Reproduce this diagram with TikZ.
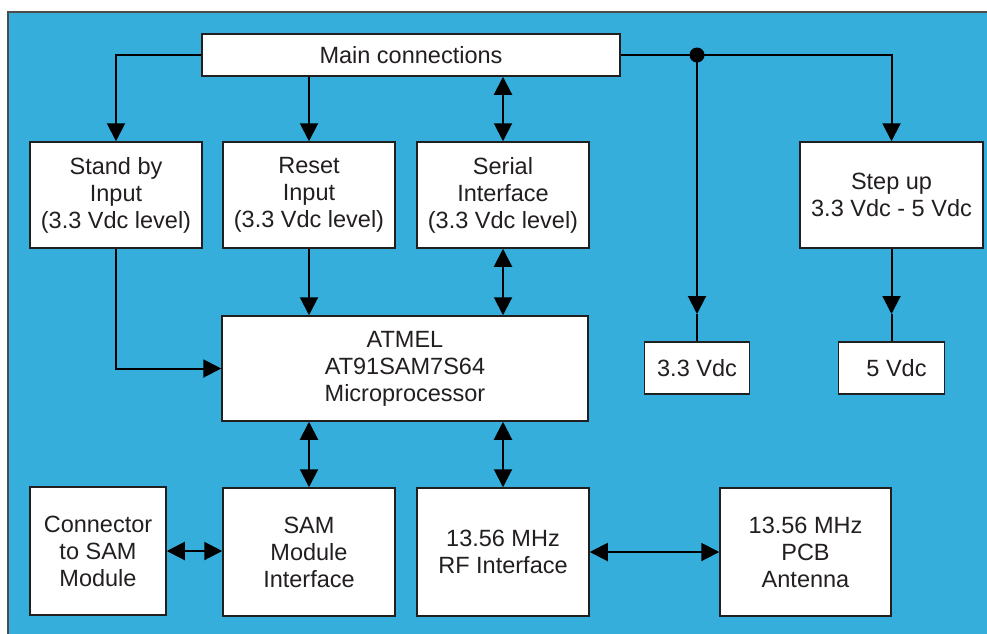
\documentclass[tikz,border=0pt]{standalone}
\usepackage{fontspec}
\setmainfont{Liberation Sans}
\usetikzlibrary{arrows.meta}
\definecolor{panel color}{RGB}{54,174,219}
\definecolor{ink color}{HTML}{231F20}
\tikzset{
    x={1pt},
    y={-1pt},
    panel/.style={
        fill=panel color,
        draw=black!70,
        line width={1.5pt},
    },
    block/.style 2 args={
        draw=ink color, fill=white,
        line width={1.5pt},
        minimum width={#1},
        minimum height={#2},
        inner sep=0pt,
        align=center,
        text=ink color,
        font={\fontsize{23.5}{27}\selectfont},
    },
    link/.style={
        draw=black,
        line width={2pt},
    },
    feed/.style={
        link,
        -{Triangle[length=18pt,width=18pt]},
    },
    bus/.style={
        link,
        {Triangle[length=18pt,width=18pt]}-{Triangle[length=18pt,width=18pt]},
    },
    junction/.style={
        circle, fill=black,
        inner sep=0pt, outer sep=0pt,
        minimum size={15},
    },
}

\begin{document}
\begin{tikzpicture}
% background
\clip (0,0) rectangle (987,633);
\path[panel] (8,12) rectangle (997,643);
% blocks
\node[block={418}{42}] (main) at (411,55) {Main connections};
\node[block={172}{106}] (standby) at (116,195) {Stand by\\Input\\(3.3 Vdc level)};
\node[block={172}{106}] (reset) at (309,195) {Reset\\Input\\(3.3 Vdc level)};
\node[block={172}{106}] (serial) at (503,195) {Serial\\Interface\\(3.3 Vdc level)};
\node[block={183}{106}] (stepup) at (891.5,195) {Step up\\3.3 Vdc - 5 Vdc};
\node[block={366}{105}] (atmel) at (405,368.5) {ATMEL\\AT91SAM7S64\\Microprocessor};
\node[block={105}{52}] (vlow) at (697,368) {3.3 Vdc};
\node[block={106}{52}] (vhigh) at (891.5,368) {\hspace{10pt}5 Vdc};
\node[block={136}{128}] (connector) at (98,551) {Connector\\to SAM\\Module};
\node[block={172}{128}] (sam) at (309,552) {SAM\\Module\\Interface};
\node[block={172}{128}] (rf) at (503,552) {13.56 MHz\\RF Interface};
\node[block={171}{128}] (antenna) at (805.5,552) {13.56 MHz\\PCB\\Antenna};
% supply lines
\node[junction] (split) at (697,55) {};
\coordinate (vlow tip) at (697,314);
\coordinate (vhigh tip) at (891.5,314);
\draw[feed] (main.west) -| (standby.north);
\draw[feed] (main.south -| reset) -- (reset.north);
\draw[link] (main.east) -- (split.center);
\draw[feed] (split.center) -| (stepup.north);
\draw[feed] (split.center) -- (vlow tip);
\draw[link] (vlow tip) -- (vlow.north);
\draw[feed] (stepup.south) -- (vhigh tip);
\draw[link] (vhigh tip) -- (vhigh.north);
% signal lines
\draw[bus] (main.south -| serial) -- (serial.north);
\draw[feed] (standby.south) |- (atmel.west);
\draw[feed] (reset.south) -- (reset.south |- atmel.north);
\draw[bus] (serial.south) -- (serial.south |- atmel.north);
\draw[bus] (atmel.south -| sam) -- (sam.north);
\draw[bus] (atmel.south -| rf) -- (rf.north);
\draw[bus] (connector.east) -- (connector.east -| sam.west);
\draw[bus] (rf.east) -- (rf.east -| antenna.west);
\end{tikzpicture}
\end{document}
